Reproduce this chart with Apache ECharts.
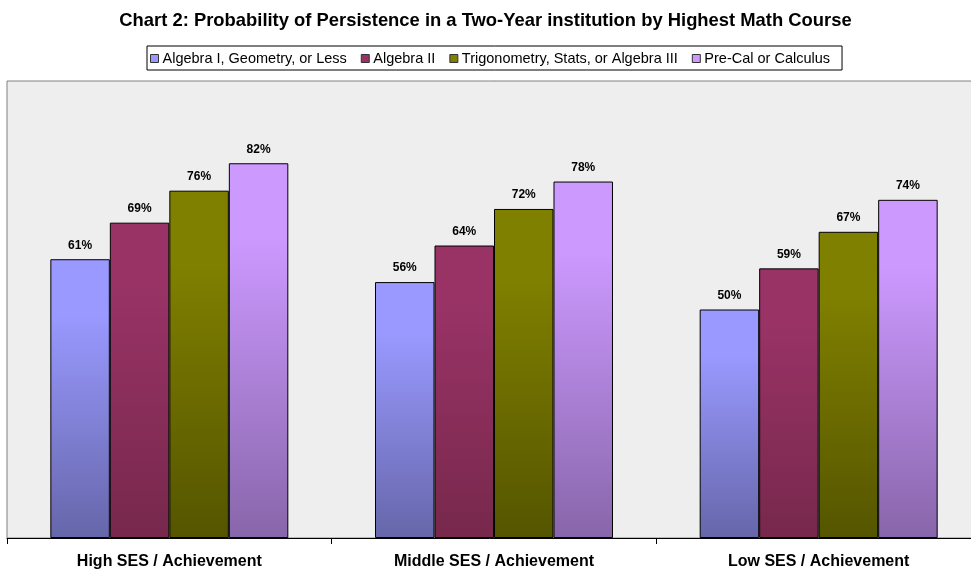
<!DOCTYPE html>
<html><head><meta charset="utf-8">
<script src="https://cdn.jsdelivr.net/npm/echarts@6/dist/echarts.min.js"></script>
<style>html,body{margin:0;padding:0;background:#fff}#c{width:971px;height:573px}</style>
</head><body><div id="c"></div>
<script>
const titleText = 'Chart 2: Probability of Persistence in a Two-Year institution by Highest Math Course';
const categories = ['High SES / Achievement', 'Middle SES / Achievement', 'Low SES / Achievement'];
const seriesNames = ['Algebra I, Geometry, or Less', 'Algebra II', 'Trigonometry, Stats, or Algebra III', 'Pre-Cal or Calculus'];
const algebra1 = [61, 56, 50];
const algebra2 = [69, 64, 59];
const trig = [76, 72, 67];
const precalc = [82, 78, 74];
const topColors = ['#9999FF', '#993366', '#808000', '#CC99FF'];
const bottomColors = ['#6666AA', '#77284C', '#555500', '#8866AA'];
const values = [algebra1, algebra2, trig, precalc];

const chart = echarts.init(document.getElementById('c'), null, {renderer: 'canvas'});
const series = seriesNames.map((name, i) => ({
  name: name,
  type: 'bar',
  data: values[i],
  barGap: '0%',
  barCategoryGap: '26.7%',
  itemStyle: {
    color: new echarts.graphic.LinearGradient(0, 0, 0, 1, [
      {offset: 0, color: topColors[i]},
      {offset: 0.2, color: topColors[i]},
      {offset: 1, color: bottomColors[i]}
    ]),
    borderColor: '#000',
    borderWidth: 1
  },
  label: {
    show: true, position: 'top', distance: 8,
    formatter: p => p.value + '%',
    fontFamily: 'Arial, Liberation Sans', fontWeight: 'bold', fontSize: 12, color: '#000'
  }
}));

chart.setOption({
  animation: false,
  backgroundColor: '#fff',
  title: {
    text: titleText, left: 'center', top: 7,
    textStyle: {fontFamily: 'Arial, Liberation Sans', fontWeight: 'bold', fontSize: 18.4, color: '#000'}
  },
  legend: {
    data: seriesNames.map((n, i) => ({name: n, itemStyle: {color: topColors[i], borderColor: '#333', borderWidth: 1}})),
    top: 46, left: 147,
    icon: 'rect', itemWidth: 8, itemHeight: 8, itemGap: 14,
    padding: [5, 12, 4, 3],
    borderColor: '#000', borderWidth: 1, backgroundColor: '#fff',
    textStyle: {fontFamily: 'Arial, Liberation Sans', fontSize: 14.5, color: '#000', padding: [0, 0, 0, -1]}
  },
  grid: {
    left: 7, width: 974, top: 81, bottom: 35,
    outerBoundsMode: 'none', containLabel: false,
    show: true, backgroundColor: '#EEEEEE', borderColor: '#808080', borderWidth: 1
  },
  xAxis: {
    type: 'category', data: categories,
    axisLine: {lineStyle: {color: '#000', width: 1}},
    axisTick: {show: true, length: 6, lineStyle: {color: '#000'}},
    axisLabel: {margin: 16, fontFamily: 'Arial, Liberation Sans', fontWeight: 'bold', fontSize: 16, color: '#000'}
  },
  yAxis: {
    type: 'value', min: 0, max: 100, interval: 20,
    show: false, splitLine: {show: false}
  },
  series: series
});
</script></body></html>
